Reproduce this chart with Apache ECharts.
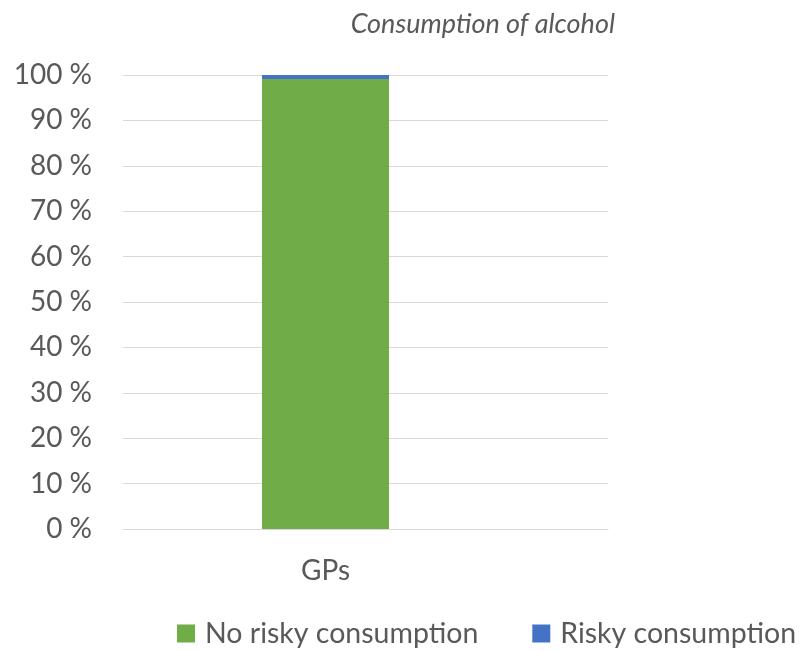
<!DOCTYPE html>
<html><head><meta charset="utf-8">
<script src="https://cdn.jsdelivr.net/npm/echarts@6/dist/echarts.min.js"></script>
<style>html,body{margin:0;padding:0;background:#fff}#c{width:804px;height:651px}</style>
</head><body><div id="c"></div>
<script>
const categories = ['GPs'];
const noRisky = [99.1];
const risky = [0.9];
const yTicks = [0,10,20,30,40,50,60,70,80,90,100];
const seriesNames = ['No risky consumption', 'Risky consumption'];
const titleText = 'Consumption of alcohol';

const FONT = 'Lato';
const TXT = '#595959';
const chart = echarts.init(document.getElementById('c'));
chart.setOption({
  animation: false,
  title: {text: titleText, right: 184, top: 6,
    textStyle: {fontFamily: FONT, fontStyle: 'italic', fontWeight: 'normal', fontSize: 27, color: TXT}},
  grid: [
    {left: 123, right: 196, top: 75, bottom: 122},
    {left: 44, right: 197, top: 75, bottom: 122}
  ],
  legend: {top: 614, left: 172, itemWidth: 18, itemHeight: 18, itemGap: 54,
    icon: 'rect',
    textStyle: {fontFamily: FONT, fontSize: 28.5, color: TXT, padding: [0, 0, 0, 5]},
    data: seriesNames},
  xAxis: [
    {type: 'category', gridIndex: 0, data: categories,
     axisLine: {lineStyle: {color: '#d9d9d9', width: 1}}, axisTick: {show: false},
     axisLabel: {show: false}},
    {type: 'category', gridIndex: 1, data: categories,
     axisLine: {show: false}, axisTick: {show: false},
     axisLabel: {fontFamily: FONT, fontSize: 28, color: TXT, margin: 28}}
  ],
  yAxis: [
    {type: 'value', gridIndex: 0, min: 0, max: 100, interval: 10,
     axisLine: {show: false}, axisTick: {show: false},
     splitLine: {lineStyle: {color: '#d9d9d9'}},
     axisLabel: {fontFamily: FONT, fontSize: 28, color: TXT, margin: 31,
       formatter: v => yTicks.includes(v) ? v + ' %' : ''}},
    {type: 'value', gridIndex: 1, min: 0, max: 100, interval: 10, show: false}
  ],
  series: [
    {name: seriesNames[0], type: 'bar', stack: 's', data: noRisky, barWidth: 127,
     xAxisIndex: 1, yAxisIndex: 1, itemStyle: {color: '#70ad47'}},
    {name: seriesNames[1], type: 'bar', stack: 's', data: risky, barWidth: 127,
     xAxisIndex: 1, yAxisIndex: 1, itemStyle: {color: '#4472c4'}}
  ]
});
</script></body></html>
